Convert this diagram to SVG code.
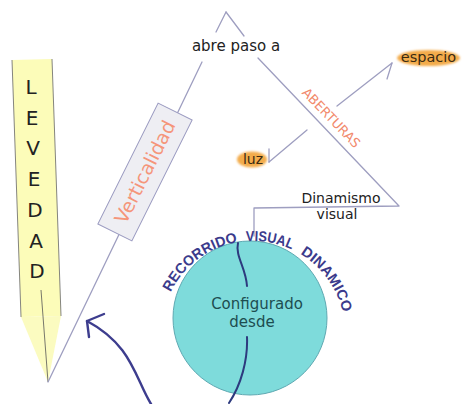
<svg xmlns="http://www.w3.org/2000/svg" width="469" height="404" viewBox="0 0 469 404">
<style>
.ln{fill:none;stroke:#9e9ec0;stroke-width:1.3;stroke-linecap:round;stroke-linejoin:round}
.nv{fill:none;stroke:#3d3d8e;stroke-width:2.4;stroke-linecap:round;stroke-linejoin:round}
.wv{fill:none;stroke:#2d3a7e;stroke-width:2;stroke-linecap:round}
.t{font-family:"DejaVu Sans","Liberation Sans",sans-serif;fill:#222}
.lev{font-family:"DejaVu Sans","Liberation Sans",sans-serif;font-size:20px;fill:#222;text-anchor:middle}
.arc{font-family:"Liberation Sans",Arial,sans-serif;font-size:14.5px;font-weight:bold;fill:#3b3b8c}
</style>
<defs>
<filter id="soft" x="-20%" y="-40%" width="140%" height="180%"><feGaussianBlur stdDeviation="1.3"/></filter>
<path id="arcp" d="M161,333 A92,92 0 0 1 345,333"/>
</defs>
<rect width="469" height="404" fill="#ffffff"/>

<g id="levedad">
<polygon points="12,60 52,59 61,316 21,317" fill="#fcfcb9"/>
<polygon points="21,317 61,316 48,382" fill="#fbfbc0"/>
<line x1="12" y1="60" x2="21" y2="317" stroke="#666" stroke-width="0.8"/>
<line x1="52" y1="59" x2="61" y2="316" stroke="#666" stroke-width="0.8"/>
<line x1="41" y1="290" x2="48" y2="382" stroke="#555" stroke-width="0.8"/>
<text class="lev" x="31" y="94">L</text>
<text class="lev" x="32" y="125">E</text>
<text class="lev" x="33" y="155">V</text>
<text class="lev" x="34" y="186">E</text>
<text class="lev" x="35" y="217">D</text>
<text class="lev" x="36" y="248">A</text>
<text class="lev" x="37" y="278">D</text>
</g>

<g id="connectors">
<polyline class="ln" points="226,12 216,32"/>
<polyline class="ln" points="202,62 48,382"/>
<polyline class="ln" points="226,12 244,36"/>
<polyline class="ln" points="258,58 399,206 254,208 254,236"/>
<line class="ln" x1="337" y1="106" x2="392" y2="63"/>
<polyline class="ln" points="392,63 387,79"/>
<line class="ln" x1="307" y1="130" x2="269" y2="162"/>
<polyline class="ln" points="269,162 269,149"/>
<path class="nv" d="M151,404 C135,378 132,345 87,321"/>
<polyline class="nv" points="104,314 87,321 89,337"/>
</g>

<g id="verticalidad" transform="translate(145,172) rotate(-63.5)">
<rect x="-67.5" y="-19" width="135" height="38" fill="#eeeef3" stroke="#9a9ac0" stroke-width="1"/>
<text x="0" y="6.5" text-anchor="middle" font-family="DejaVu Sans, Liberation Sans, sans-serif" font-size="19" fill="#f5957a">Verticalidad</text>
</g>

<g id="abre-paso">
<text class="t" x="236" y="51" font-size="15" text-anchor="middle">abre paso a</text>
</g>

<g id="aberturas" transform="translate(328,121) rotate(46)">
<text x="0" y="0" text-anchor="middle" font-family="DejaVu Sans, Liberation Sans, sans-serif" font-size="13" fill="#f28a6c">ABERTURAS</text>
</g>

<g id="espacio">
<ellipse cx="428.5" cy="58" rx="31.5" ry="8" fill="#f3ac4c" filter="url(#soft)"/>
<text x="428.5" y="62" text-anchor="middle" font-family="DejaVu Sans, Liberation Sans, sans-serif" font-size="14.5" fill="#3a2a12">espacio</text>
</g>

<g id="luz">
<ellipse cx="252" cy="159.5" rx="15" ry="8" fill="#f3ac4c" filter="url(#soft)"/>
<text x="253" y="164" text-anchor="middle" font-family="DejaVu Sans, Liberation Sans, sans-serif" font-size="14" fill="#3a2a12">luz</text>
</g>

<g id="dinamismo">
<text class="t" x="341" y="203" font-size="14" text-anchor="middle">Dinamismo</text>
<text class="t" x="337" y="219" font-size="14" text-anchor="middle">visual</text>
</g>

<g id="configurado">
<circle cx="250" cy="318" r="77" fill="#7edbdb" stroke="#5fa9b2" stroke-width="1"/>
<path class="wv" d="M238,243 C235,256 246,268 247,286"/>
<path class="wv" d="M247,337 C248,360 241,385 229,403"/>
<text x="257" y="309" text-anchor="middle" font-family="DejaVu Sans, Liberation Sans, sans-serif" font-size="15" fill="#1d4d50">Configurado</text>
<text x="252" y="327" text-anchor="middle" font-family="DejaVu Sans, Liberation Sans, sans-serif" font-size="15" fill="#1d4d50">desde</text>
</g>

<g id="recorrido-label">
<text class="arc"><textPath href="#arcp" startOffset="42.2" textLength="86.6" lengthAdjust="spacingAndGlyphs">RECORRIDO</textPath></text>
<text class="arc"><textPath href="#arcp" startOffset="137.2" textLength="47" lengthAdjust="spacingAndGlyphs">VISUAL</textPath></text>
<text class="arc"><textPath href="#arcp" startOffset="193.7" textLength="74.2" lengthAdjust="spacingAndGlyphs">DINAMICO</textPath></text>
</g>
</svg>
